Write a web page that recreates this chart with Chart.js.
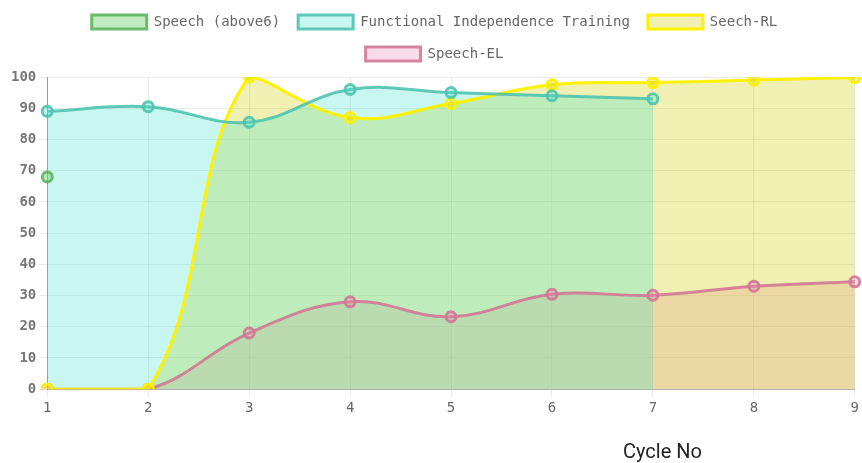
<!DOCTYPE html>
<html>
<head>
<meta charset="utf-8">
<script src="https://cdn.jsdelivr.net/npm/chart.js@4/dist/chart.umd.min.js"></script>
<style>
  body { margin: 0; background: #fff; }
  #wrap { position: relative; width: 862px; height: 463px; }
  #xtitle { position: absolute; left: 623px; top: 439px; font: 20px Roboto, sans-serif; color: #222; }
</style>
</head>
<body>
<div id="wrap">
  <canvas id="cycles" width="862" height="463"></canvas>
  <div id="xtitle">Cycle No</div>
</div>
<script>
// chart cycle scores
var cycles = ['1', '2', '3', '4', '5', '6', '7', '8', '9'];
var speechAbove6 = [68];
var independence = [89, 90.5, 85.5, 96, 95, 94, 93];
var speechRL = [0, 0, 100, 87, 91.5, 97.5, 98.2, 99, 99.8];
var speechEL = [0, 0, 18, 28, 23.2, 30.4, 30.1, 33, 34.4];
var yTicks = [0, 10, 20, 30, 40, 50, 60, 70, 80, 90, 100];

var mono = { family: '"DejaVu Sans Mono", monospace', size: 14 };

function serie(label, data, line, fill) {
	return {
		label: label,
		data: data,
		borderColor: line,
		backgroundColor: fill,
		pointBackgroundColor: fill,
		pointBorderColor: line,
		borderWidth: 3,
		pointRadius: 5,
		pointBorderWidth: 3,
		tension: 0.4,
		fill: 'origin'
	};
}

// a bit more room under the legend
var legendGap = {
	id: 'legendGap',
	beforeInit: function (chart) {
		var fit = chart.legend.fit;
		chart.legend.fit = function () {
			fit.bind(chart.legend)();
			this.height += 6;
		};
	}
};

var ctx = document.getElementById('cycles').getContext('2d');
var chart = new Chart(ctx, {
	type: 'line',
	data: {
		labels: cycles,
		datasets: [
			serie('Speech (above6)', speechAbove6, 'rgba(95,180,95,0.9)', 'rgba(120,210,120,0.45)'),
			serie('Functional Independence Training', independence, 'rgba(80,195,175,0.9)', 'rgba(72,225,205,0.3)'),
			serie('Seech-RL', speechRL, 'rgb(255,242,0)', 'rgba(205,205,0,0.3)'),
			serie('Speech-EL', speechEL, 'rgba(210,120,150,0.9)', 'rgba(230,140,180,0.3)')
		]
	},
	plugins: [legendGap],
	options: {
		responsive: false,
		animation: false,
		layout: { autoPadding: false, padding: { left: 8, right: 1, top: -3, bottom: 43 } },
		plugins: {
			filler: { drawTime: 'beforeDatasetsDraw' },
			legend: {
				labels: {
					font: { family: mono.family, size: 14 },
					color: '#666',
					boxWidth: 55,
					boxHeight: 14,
					padding: 18
				}
			},
			tooltip: { enabled: false }
		},
		scales: {
			x: {
				grid: { color: 'rgba(0,0,0,0.08)' },
				border: { color: 'rgba(0,0,0,0.25)' },
				ticks: { font: mono, color: '#666' }
			},
			y: {
				min: 0,
				max: 100,
				afterBuildTicks: function (axis) {
					axis.ticks = yTicks.map(function (v) { return { value: v }; });
				},
				grid: { color: 'rgba(0,0,0,0.08)' },
				border: { color: 'rgba(0,0,0,0.35)' },
				ticks: { font: { family: mono.family, size: 14, weight: 'bold' }, color: '#777' }
			}
		}
	}
});
</script>
</body>
</html>
